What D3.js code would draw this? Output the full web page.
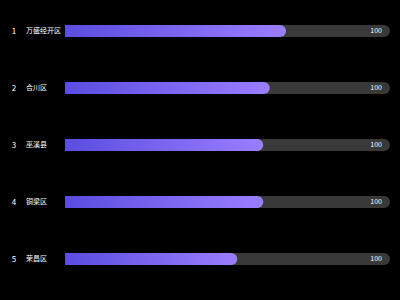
<!DOCTYPE html>
<html>
<head>
<meta charset="utf-8">
<script src="https://cdn.jsdelivr.net/npm/d3@7/dist/d3.min.js"></script>
<style>
  html, body { margin: 0; padding: 0; background: #000; }
  svg { display: block; }
</style>
</head>
<body>
<div id="plot"></div>
<script>
var width = 400;
var height = 300;

// data
var ranks = [1, 2, 3, 4, 5];
var districts = ['万盛经开区', '合川区', '巫溪县', '铜梁区', '荣昌区'];
var values = [68, 63, 61, 61, 53];
var maxValue = 100;

var barLeft = 65;
var barRight = 390;
var barHeight = 12;

var canvas = d3.select('#plot')
    .append('svg')
    .attr('width', width)
    .attr('height', height);

var defs = canvas.append('defs');
var grad = defs.append('linearGradient')
    .attr('id', 'barGrad')
    .attr('x1', '0%').attr('x2', '100%')
    .attr('y1', '0%').attr('y2', '0%');
grad.append('stop').attr('offset', '0%').attr('stop-color', '#5a4de0');
grad.append('stop').attr('offset', '100%').attr('stop-color', '#9b7dff');

var x = d3.scaleLinear()
    .domain([0, maxValue])
    .range([barLeft, barRight]);

var y = d3.scaleBand()
    .domain(districts)
    .range([2.5, 287.5])
    .paddingInner(0);

// square left, rounded right
function barPath(x0, x1, yc, h) {
    var r = h / 2;
    var top = yc - r;
    var p = d3.path();
    p.moveTo(x0, top);
    p.lineTo(x1 - r, top);
    p.arc(x1 - r, yc, r, -Math.PI / 2, Math.PI / 2);
    p.lineTo(x0, top + h);
    p.closePath();
    return p.toString();
}

var rows = canvas.selectAll('g.row')
    .data(districts)
    .enter()
    .append('g')
    .attr('class', 'row');

function cy(d) { return y(d) + y.bandwidth() / 2; }

// track
rows.append('path')
    .attr('d', function(d) { return barPath(x(0), x(maxValue), cy(d), barHeight); })
    .attr('fill', '#393939');

// value bar
rows.append('path')
    .attr('d', function(d, i) { return barPath(x(0), x(values[i]), cy(d), barHeight); })
    .attr('fill', 'url(#barGrad)');

// rank
rows.append('text')
    .attr('x', 14)
    .attr('y', function(d) { return cy(d); })
    .attr('dy', '0.35em')
    .attr('text-anchor', 'middle')
    .attr('font-family', 'Noto Sans CJK SC, sans-serif')
    .attr('font-size', 8)
    .attr('fill', '#ffffff')
    .text(function(d, i) { return ranks[i]; });

// name
rows.append('text')
    .attr('x', 26)
    .attr('y', function(d) { return cy(d); })
    .attr('dy', '0.35em')
    .attr('font-family', 'Noto Sans CJK SC, sans-serif')
    .attr('font-size', 7)
    .attr('fill', '#ffffff')
    .text(function(d) { return d; });

// max label
rows.append('text')
    .attr('x', 382)
    .attr('y', function(d) { return cy(d); })
    .attr('dy', '0.35em')
    .attr('text-anchor', 'end')
    .attr('font-family', 'Noto Sans CJK SC, sans-serif')
    .attr('font-size', 7)
    .attr('fill', '#ffffff')
    .text(maxValue);
</script>
</body>
</html>
